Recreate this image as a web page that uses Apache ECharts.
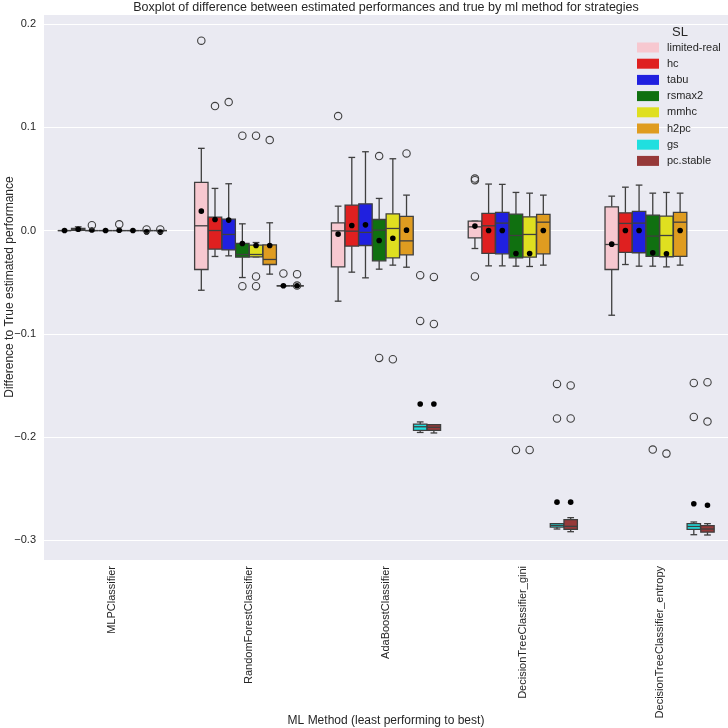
<!DOCTYPE html>
<html>
<head>
<meta charset="utf-8">
<script src="https://cdn.jsdelivr.net/npm/echarts@6/dist/echarts.min.js"></script>
<style>html,body{margin:0;padding:0;background:#fff}#main{width:728px;height:728px}</style>
</head>
<body>
<div id="main"></div>
<script>
const categories = ['MLPClassifier', 'RandomForestClassifier', 'AdaBoostClassifier', 'DecisionTreeClassifier_gini', 'DecisionTreeClassifier_entropy'];
const strategies = ['limited-real', 'hc', 'tabu', 'rsmax2', 'mmhc', 'h2pc', 'gs', 'pc.stable'];
const yTicks = [-0.3, -0.2, -0.1, 0, 0.1, 0.2];

// [low whisker, q1, median, q3, high whisker] per ML method
const boxLimitedReal = [[0, 0, 0, 0, 0], [-0.0578, -0.0377, 0.0046, 0.0466, 0.0796], [-0.0684, -0.0352, -0.0003, 0.0075, 0.0236], [-0.0174, -0.0071, 0.0036, 0.0091, 0.0091], [-0.082, -0.0377, -0.0135, 0.023, 0.0333]];
const boxHc = [[0, 0.0003, 0.001, 0.002, 0.0036], [-0.0251, -0.018, 0.0, 0.013, 0.0408], [-0.0403, -0.0151, -0.0006, 0.0246, 0.0708], [-0.0342, -0.0222, 0.0046, 0.0166, 0.045], [-0.0329, -0.0212, 0.0069, 0.0172, 0.042]];
const boxTabu = [[0, 0, 0, 0, 0], [-0.0245, -0.0187, -0.0038, 0.011, 0.0453], [-0.0458, -0.0145, -0.0018, 0.0259, 0.0763], [-0.0342, -0.0225, 0.0072, 0.0175, 0.0447], [-0.0345, -0.0215, 0.0072, 0.0185, 0.044]];
const boxRsmax2 = [[0, 0, 0, 0, 0], [-0.0455, -0.0258, -0.0232, -0.0125, 0.0065], [-0.0374, -0.0293, 0.0004, 0.0107, 0.0311], [-0.0345, -0.0264, -0.0048, 0.0159, 0.0369], [-0.0345, -0.0251, -0.0054, 0.0149, 0.0362]];
const boxMmhc = [[0, 0, 0, 0, 0], [-0.0255, -0.0255, -0.0232, -0.0141, -0.0116], [-0.0335, -0.0264, 0.002, 0.0162, 0.0695], [-0.0348, -0.0258, -0.0038, 0.0133, 0.0362], [-0.0352, -0.0254, -0.0048, 0.014, 0.0369]];
const boxH2pc = [[0, 0, 0, 0, 0], [-0.0422, -0.0329, -0.028, -0.0138, 0.0075], [-0.0355, -0.0235, -0.01, 0.0137, 0.0343], [-0.0335, -0.0225, 0.0081, 0.0156, 0.0343], [-0.0335, -0.0251, 0.0081, 0.0175, 0.0362]];
const boxGs = [[0, 0, 0, 0, 0], [-0.0535, -0.0535, -0.0535, -0.0535, -0.0535], [-0.1955, -0.1935, -0.19, -0.1875, -0.1853], [-0.289, -0.2871, -0.2855, -0.2838, -0.2838], [-0.2945, -0.2893, -0.2865, -0.2838, -0.2822]];
const boxPcStable = [[0, 0, 0, 0, 0], [-0.0535, -0.0535, -0.0535, -0.0535, -0.0535], [-0.196, -0.1935, -0.1905, -0.188, -0.188], [-0.2916, -0.2893, -0.2864, -0.28, -0.278], [-0.2948, -0.292, -0.289, -0.2858, -0.2838]];

// means per ML method
const meanLimitedReal = [0, 0.0188, -0.0035, 0.0043, -0.0132];
const meanHc = [0.0012, 0.0107, 0.0049, 0.0, 0.0];
const meanTabu = [0.0005, 0.0101, 0.0055, 0.0, 0.0];
const meanRsmax2 = [0, -0.0125, -0.0096, -0.0222, -0.0216];
const meanMmhc = [0.0003, -0.0145, -0.0074, -0.0222, -0.0225];
const meanH2pc = [0, -0.0145, 0.0004, 0.0, 0.0];
const meanGs = [-0.0013, -0.0535, -0.168, -0.263, -0.2645];
const meanPcStable = [-0.0015, -0.0535, -0.168, -0.263, -0.266];

// outliers: [ML method index, value]
const outLimitedReal = [[1, 0.1838], [2, 0.1108], [3, 0.0488], [3, 0.0503], [3, -0.0445]];
const outHc = [[1, 0.1205]];
const outTabu = [[0, 0.0052], [1, 0.1244]];
const outRsmax2 = [[1, 0.0918], [1, -0.0539], [2, 0.0721], [2, -0.1233], [3, -0.2125], [4, -0.2121]];
const outMmhc = [[0, 0.006], [1, 0.0918], [1, -0.0445], [1, -0.0539], [2, -0.1246], [3, -0.2125], [4, -0.216]];
const outH2pc = [[1, 0.0876], [2, 0.0747]];
const outGs = [[0, 0.001], [1, -0.0416], [2, -0.0432], [2, -0.0875], [3, -0.1485], [3, -0.182], [4, -0.1476], [4, -0.1805]];
const outPcStable = [[0, 0.001], [1, -0.0422], [1, -0.0533], [2, -0.0449], [2, -0.0905], [3, -0.150], [3, -0.182], [4, -0.1469], [4, -0.185]];

const boxes = [boxLimitedReal, boxHc, boxTabu, boxRsmax2, boxMmhc, boxH2pc, boxGs, boxPcStable];
const means = [meanLimitedReal, meanHc, meanTabu, meanRsmax2, meanMmhc, meanH2pc, meanGs, meanPcStable];
const outliers = [outLimitedReal, outHc, outTabu, outRsmax2, outMmhc, outH2pc, outGs, outPcStable];

const colors = ['#F7C8D0', '#DF2020', '#2020DF', '#107010', '#DFDF20', '#DF9C20', '#20DFDF', '#963939'];
const edge = '#3f3f3f';
const textColor = '#262626';
const font = 'Liberation Sans, Arial, sans-serif';

function slotX(api, cat, hue) {
  const band = api.size([1, 0])[0];
  const slot = band * 0.8 / strategies.length;
  return {cx: api.coord([cat, 0])[0] + (hue - (strategies.length - 1) / 2) * slot, w: slot * 0.98};
}

function boxRenderer(hue) {
  return function (params, api) {
    const cat = api.value(0);
    const p = slotX(api, cat, hue);
    const cx = p.cx, w = p.w;
    const y = i => api.coord([cat, api.value(i)])[1];
    const lo = y(1), q1 = y(2), med = y(3), q3 = y(4), hi = y(5), mean = y(6);
    const ls = {stroke: edge, lineWidth: 1.3};
    return {
      type: 'group',
      children: [
        {type: 'line', shape: {x1: cx, y1: q3, x2: cx, y2: hi}, style: ls},
        {type: 'line', shape: {x1: cx, y1: q1, x2: cx, y2: lo}, style: ls},
        {type: 'line', shape: {x1: cx - w / 4, y1: hi, x2: cx + w / 4, y2: hi}, style: ls},
        {type: 'line', shape: {x1: cx - w / 4, y1: lo, x2: cx + w / 4, y2: lo}, style: ls},
        {type: 'rect', shape: {x: cx - w / 2, y: q3, width: w, height: q1 - q3}, style: {fill: colors[hue], stroke: edge, lineWidth: 1.3}},
        {type: 'line', shape: {x1: cx - w / 2, y1: med, x2: cx + w / 2, y2: med}, style: ls},
        {type: 'circle', shape: {cx: cx, cy: mean, r: 2.8}, style: {fill: '#000'}}
      ]
    };
  };
}

function outlierRenderer(hue) {
  return function (params, api) {
    const cat = api.value(0);
    const p = slotX(api, cat, hue);
    const pt = api.coord([cat, api.value(1)]);
    return {type: 'circle', shape: {cx: p.cx, cy: pt[1], r: 3.7}, style: {fill: 'none', stroke: edge, lineWidth: 1.1}};
  };
}

const series = [];
strategies.forEach(function (name, h) {
  series.push({
    name: name,
    type: 'custom',
    renderItem: boxRenderer(h),
    itemStyle: {color: colors[h]},
    encode: {x: 0, y: [1, 2, 3, 4, 5, 6]},
    data: boxes[h].map((b, i) => [i].concat(b, [means[h][i]])),
    z: 3
  });
});
strategies.forEach(function (name, h) {
  series.push({
    name: name + ' outliers',
    type: 'custom',
    renderItem: outlierRenderer(h),
    encode: {x: 0, y: 1},
    data: outliers[h],
    z: 4
  });
});

const chart = echarts.init(document.getElementById('main'));
chart.setOption({
  animation: false,
  backgroundColor: '#fff',
  textStyle: {fontFamily: font},
  grid: {left: 44, right: 0, top: 15, bottom: 168, show: true, backgroundColor: '#EAEAF2', borderWidth: 0, containLabel: false, outerBoundsMode: 'none'},
  graphic: [
    {type: 'text', x: 386, y: 8, style: {text: 'Boxplot of difference between estimated performances and true by ml method for strategies', fill: textColor, font: '12.5px ' + font, textAlign: 'center', textVerticalAlign: 'middle'}},
    {type: 'text', x: 680, y: 32, style: {text: 'SL', fill: textColor, font: '13px ' + font, textAlign: 'center', textVerticalAlign: 'middle'}},
    {type: 'text', x: 386, y: 721, style: {text: 'ML Method (least performing to best)', fill: textColor, font: '12px ' + font, textAlign: 'center', textVerticalAlign: 'middle'}},
    {type: 'text', x: 10, y: 287, rotation: Math.PI / 2, style: {text: 'Difference to True estimated performance', fill: textColor, font: '12px ' + font, textAlign: 'center', textVerticalAlign: 'middle'}}
  ],
  legend: {
    data: strategies,
    orient: 'vertical',
    left: 632,
    top: 37,
    icon: 'rect',
    itemWidth: 22,
    itemHeight: 10,
    itemGap: 5.2,
    textStyle: {color: textColor, fontSize: 11, fontFamily: font, padding: [0, 0, 0, 3]},
    selectedMode: false
  },
  xAxis: {
    type: 'category',
    data: categories,
    boundaryGap: true,
    axisLine: {show: false},
    axisTick: {show: false},
    splitLine: {show: false},
    axisLabel: {rotate: 90, color: textColor, fontSize: 11, margin: 6, interval: 0}
  },
  yAxis: {
    type: 'value',
    min: -0.319,
    max: 0.2087,
    axisLine: {show: false},
    axisTick: {show: false, customValues: yTicks},
    axisLabel: {customValues: yTicks, color: textColor, fontSize: 11, margin: 8, formatter: v => (v < 0 ? '\u2212' : '') + Math.abs(v).toFixed(1)},
    splitLine: {show: true, lineStyle: {color: '#fff', width: 1}}
  },
  series: series
});
</script>
</body>
</html>
